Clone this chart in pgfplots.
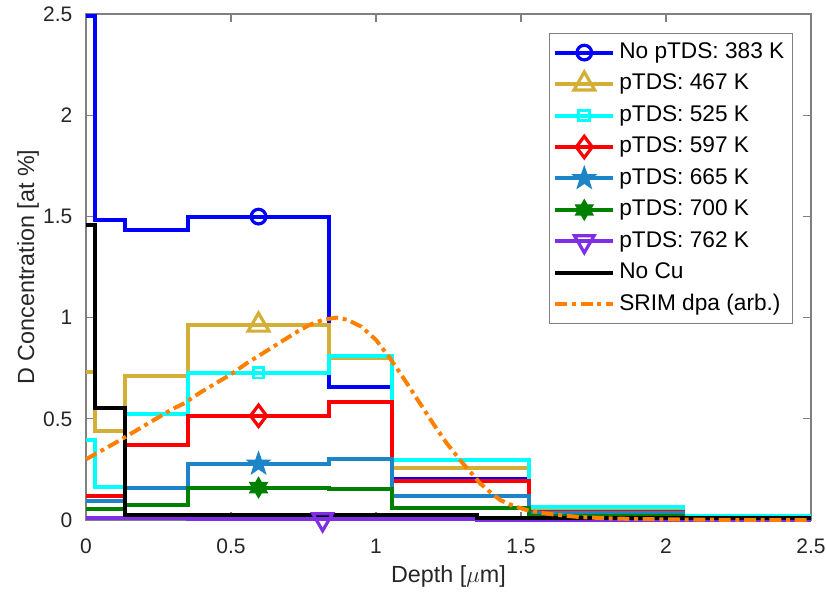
\documentclass[border=0pt]{standalone}
\usepackage{fontspec}
\setmainfont{Liberation Sans}
\usepackage{pgfplots}
\pgfplotsset{compat=1.18}

\definecolor{cgold}{RGB}{212,175,55}
\definecolor{ccyan}{RGB}{0,255,255}
\definecolor{csteel}{RGB}{30,132,200}
\definecolor{cgreen}{RGB}{0,128,0}
\definecolor{cviolet}{RGB}{126,47,230}
\definecolor{corange}{RGB}{255,128,0}
\definecolor{cblue}{RGB}{0,0,255}
\definecolor{cred}{RGB}{255,0,0}
\definecolor{caxis}{RGB}{128,128,128}
\definecolor{ctext}{RGB}{38,38,38}

\pgfdeclareplotmark{fstar}{%
 \pgfpathmoveto{\pgfpointpolar{90}{\pgfplotmarksize}}%
 \pgfpathlineto{\pgfpointpolar{126}{0.4\pgfplotmarksize}}%
 \pgfpathlineto{\pgfpointpolar{162}{\pgfplotmarksize}}%
 \pgfpathlineto{\pgfpointpolar{198}{0.4\pgfplotmarksize}}%
 \pgfpathlineto{\pgfpointpolar{234}{\pgfplotmarksize}}%
 \pgfpathlineto{\pgfpointpolar{270}{0.4\pgfplotmarksize}}%
 \pgfpathlineto{\pgfpointpolar{306}{\pgfplotmarksize}}%
 \pgfpathlineto{\pgfpointpolar{342}{0.4\pgfplotmarksize}}%
 \pgfpathlineto{\pgfpointpolar{18}{\pgfplotmarksize}}%
 \pgfpathlineto{\pgfpointpolar{54}{0.4\pgfplotmarksize}}%
 \pgfpathclose
 \pgfusepathqfillstroke}
\pgfdeclareplotmark{hexa}{%
 \pgfpathmoveto{\pgfpointpolar{90}{\pgfplotmarksize}}%
 \pgfpathlineto{\pgfpointpolar{120}{0.577\pgfplotmarksize}}%
 \pgfpathlineto{\pgfpointpolar{150}{\pgfplotmarksize}}%
 \pgfpathlineto{\pgfpointpolar{180}{0.577\pgfplotmarksize}}%
 \pgfpathlineto{\pgfpointpolar{210}{\pgfplotmarksize}}%
 \pgfpathlineto{\pgfpointpolar{240}{0.577\pgfplotmarksize}}%
 \pgfpathlineto{\pgfpointpolar{270}{\pgfplotmarksize}}%
 \pgfpathlineto{\pgfpointpolar{300}{0.577\pgfplotmarksize}}%
 \pgfpathlineto{\pgfpointpolar{330}{\pgfplotmarksize}}%
 \pgfpathlineto{\pgfpointpolar{0}{0.577\pgfplotmarksize}}%
 \pgfpathlineto{\pgfpointpolar{30}{\pgfplotmarksize}}%
 \pgfpathlineto{\pgfpointpolar{60}{0.577\pgfplotmarksize}}%
 \pgfpathclose
 \pgfusepathqfillstroke}

\begin{document}
\begin{tikzpicture}
\begin{axis}[
  scale only axis,
  width=543.75pt, height=379.5pt,
  xmin=0, xmax=2.5, ymin=0, ymax=2.5,
  xtick={0,0.5,1,1.5,2,2.5}, ytick={0,0.5,1,1.5,2,2.5},
  xticklabels={0,0.5,1,1.5,2,2.5}, yticklabels={0,0.5,1,1.5,2,2.5},
  tick align=inside, major tick length=6pt,
  xtick pos=both, ytick pos=both,
  axis line style={caxis, line width=0.8pt},
  tick style={caxis, line width=0.8pt},
  clip=false,
  tick label style={font=\fontsize{15.75}{18}\selectfont, text=ctext, inner sep=0pt},
  xticklabel style={anchor=base, yshift=-24.75pt},
  yticklabel style={anchor=east, xshift=-10pt},
  xlabel={Depth [$\mu$m]},
  ylabel={D Concentration [at \%]},
  label style={font=\fontsize{17.5}{20}\selectfont, text=ctext, inner sep=0pt},
  xlabel style={at={(axis description cs:0.5,-0.1225)}, anchor=base},
  ylabel style={at={(axis description cs:-0.0717,0.5)}, anchor=base},
  legend image code/.code={\draw[mark repeat=2,mark phase=2,#1] plot coordinates {(0pt,0pt) (21.75pt,0pt) (43.5pt,0pt)};},
  legend style={at={(axis description cs:0.975,0.9625)}, anchor=north east,
    draw=caxis, line width=0.8pt, fill=white,
    font=\fontsize{17}{19}\selectfont, text=black,
    inner xsep=3pt, inner ysep=2.5pt, row sep=0pt,
    nodes={inner xsep=3pt, inner ysep=3.4pt, text height=12.8pt, text depth=4pt}},
  legend cell align=left,
]
% staircases
\addplot[cblue, line width=3pt, const plot, forget plot] coordinates {(0,2.49)(0.03,1.482)(0.133,1.433)(0.352,1.499)(0.838,0.656)(1.054,0.205)(1.529,0.045)(2.059,0.012)(2.5,0.012)};
\addplot[cgold, line width=3pt, const plot, forget plot] coordinates {(0,0.733)(0.03,0.44)(0.133,0.711)(0.352,0.963)(0.838,0.80)(1.054,0.255)(1.529,0.05)(2.059,0.012)(2.5,0.012)};
\addplot[ccyan, line width=3pt, const plot, forget plot] coordinates {(0,0.396)(0.03,0.161)(0.133,0.523)(0.352,0.728)(0.838,0.812)(1.054,0.297)(1.529,0.063)(2.059,0.021)(2.5,0.021)};
\addplot[cred, line width=3pt, const plot, forget plot] coordinates {(0,0.12)(0.133,0.371)(0.352,0.515)(0.838,0.584)(1.054,0.194)(1.529,0.041)(2.059,0.012)(2.5,0.012)};
\addplot[csteel, line width=3pt, const plot, forget plot] coordinates {(0,0.095)(0.133,0.156)(0.352,0.277)(0.838,0.30)(1.054,0.117)(1.529,0.033)(2.059,0.01)(2.5,0.01)};
\addplot[cgreen, line width=3pt, const plot, forget plot] coordinates {(0,0.054)(0.133,0.074)(0.352,0.16)(0.838,0.153)(1.054,0.059)(1.529,0.02)(2.059,0.006)(2.5,0.006)};
\addplot[cviolet, line width=3pt, const plot, forget plot] coordinates {(0,0.008)(0.352,0.003)(1.28,0.006)(1.35,0.002)(2.5,0.002)};
\addplot[black, line width=3pt, const plot, forget plot] coordinates {(0,1.457)(0.03,0.551)(0.133,0.026)(1.35,0.008)(2.5,0.008)};
% SRIM dpa
\addplot[corange, line width=3pt, dash pattern=on 9pt off 3.5pt on 3pt off 3.5pt, forget plot] coordinates {
(0,0.30)(0.1,0.38)(0.2,0.465)(0.3,0.55)(0.334,0.573)(0.4,0.635)(0.5,0.72)(0.554,0.774)(0.6,0.815)(0.65,0.86)(0.7,0.905)(0.738,0.939)(0.78,0.97)(0.82,0.99)(0.864,1.0)(0.9,0.99)(0.95,0.955)(1.0,0.89)(1.048,0.80)(1.1,0.69)(1.15,0.58)(1.2,0.47)(1.244,0.379)(1.29,0.296)(1.33,0.23)(1.359,0.181)(1.4,0.13)(1.428,0.099)(1.473,0.07)(1.52,0.049)(1.58,0.033)(1.646,0.022)(1.7,0.015)(1.8,0.008)(1.9,0.005)(2.0,0.003)(2.2,0.001)(2.5,0.0)};
% markers
\addplot[cblue, only marks, mark=o, mark size=5.5pt, line width=2.4pt, forget plot] coordinates {(0.595,1.499)};
\addplot[cgold, only marks, mark=triangle, mark size=9pt, line width=2.4pt, forget plot] coordinates {(0.595,0.963)};
\addplot[ccyan, only marks, mark=square, mark size=4pt, line width=2.2pt, forget plot] coordinates {(0.595,0.728)};
\addplot[cred, only marks, mark=diamond, mark size=8pt, line width=2.4pt, forget plot] coordinates {(0.595,0.515)};
\addplot[csteel, only marks, mark=fstar, mark size=9pt, line width=0.8pt, fill=csteel, forget plot] coordinates {(0.595,0.277)};
\addplot[cgreen, only marks, mark=hexa, mark size=7.5pt, line width=1pt, fill=cgreen, forget plot] coordinates {(0.595,0.16)};
\addplot[cviolet, only marks, mark=triangle, mark size=8.5pt, mark options={rotate=180}, line width=2.4pt, forget plot] coordinates {(0.816,0.003)};
% legend
\addlegendimage{cblue, line width=3pt, mark=o, mark size=5.5pt, mark options={line width=2.4pt}}
\addlegendentry{No pTDS: 383 K}
\addlegendimage{cgold, line width=3pt, mark=triangle, mark size=9pt, mark options={line width=2.4pt}}
\addlegendentry{pTDS: 467 K}
\addlegendimage{ccyan, line width=3pt, mark=square, mark size=4pt, mark options={line width=2.2pt}}
\addlegendentry{pTDS: 525 K}
\addlegendimage{cred, line width=3pt, mark=diamond, mark size=8pt, mark options={line width=2.4pt}}
\addlegendentry{pTDS: 597 K}
\addlegendimage{csteel, line width=3pt, mark=fstar, mark size=9pt, mark options={line width=0.8pt, fill=csteel}}
\addlegendentry{pTDS: 665 K}
\addlegendimage{cgreen, line width=3pt, mark=hexa, mark size=7.5pt, mark options={line width=1pt, fill=cgreen}}
\addlegendentry{pTDS: 700 K}
\addlegendimage{cviolet, line width=3pt, mark=triangle, mark size=8.5pt, mark options={rotate=180, line width=2.4pt}}
\addlegendentry{pTDS: 762 K}
\addlegendimage{black, line width=3pt}
\addlegendentry{No Cu}
\addlegendimage{corange, line width=3pt, dash pattern=on 9pt off 3.5pt on 3pt off 3.5pt}
\addlegendentry{SRIM dpa (arb.)}
\path (rel axis cs:-0.1186,-0.1482) rectangle (rel axis cs:1.0207,1.0277);
\end{axis}
\end{tikzpicture}
\end{document}
